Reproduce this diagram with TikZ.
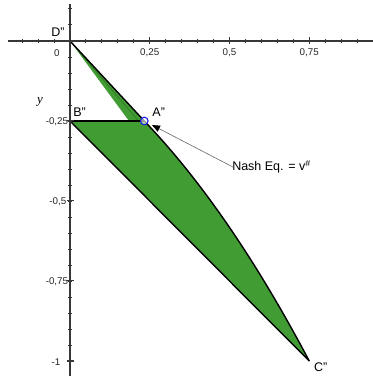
\documentclass[tikz,border=0pt]{standalone}
\usepackage{fontspec}
\setmainfont{Liberation Sans}
\newfontfamily\serifit{Liberation Serif}
\usetikzlibrary{arrows.meta}
\definecolor{fillgreen}{RGB}{66,156,52}
\definecolor{axisgray}{RGB}{55,55,55}
\definecolor{eqblue}{RGB}{20,30,230}
\tikzset{
  ticklabel/.style={font=\fontsize{9.8}{10}\selectfont, inner sep=0pt, text=black!85},
  ptlabel/.style={font=\fontsize{12.5}{13}\selectfont, inner sep=0pt},
  axisline/.style={axisgray, line width=1.4pt},
  tickline/.style={axisgray, line width=1pt},
  edge/.style={black, line width=1.4pt},
}
\begin{document}
\begin{tikzpicture}
\useasboundingbox (0,0) rectangle (373pt,376pt);
\begin{scope}[shift={(70pt,335pt)}, x=319pt, y=320pt]
  % points
  \coordinate (D) at (0,0);
  \coordinate (B) at (0,-0.25);
  \coordinate (A) at (0.233,-0.25);
  \coordinate (P) at (0.185,-0.25);
  \coordinate (C) at (0.75,-1);
  \coordinate (c1) at (0.411,-0.435);
  \coordinate (c2) at (0.583,-0.685);
  % region
  \fill[fillgreen] (D) -- (A) .. controls (c1) and (c2) .. (C) -- (B) -- (P) -- cycle;
  \draw[fillgreen!70!black, line width=0.5pt] (D) -- (0.215,-0.25);
  \draw[edge] (D) -- (A);
  \draw[edge] (B) -- (A);
  \draw[edge] (A) .. controls (c1) and (c2) .. (C);
  \draw[edge] (B) -- (C);
  % axes
  \coordinate (xl) at (-0.194,0);
  \coordinate (xr) at (0.95,0);
  \coordinate (yt) at (0,0.116);
  \coordinate (yb) at (0,-1.05);
  \draw[axisline] (xl) -- (xr);
  \draw[axisline] (yt) -- (yb);
  \foreach \i in {-3,...,18}{
    \draw[tickline] (\i*0.05,0) ++(0,-2pt) -- ++(0,4pt);
  }
  \foreach \i in {1,2,3}{
    \draw[tickline] (\i*0.25,0) ++(0,-3.5pt) -- ++(0,7pt);
  }
  \foreach \i in {-20,...,2}{
    \draw[tickline] (0,\i*0.05) ++(-2pt,0) -- ++(4pt,0);
  }
  \foreach \i in {1,2,3,4}{
    \draw[tickline] (0,-\i*0.25) ++(-3.5pt,0) -- ++(7pt,0);
  }
  % tick labels
  \node[ticklabel] (x0) at (-0.041,-0.0375) {0};
  \node[ticklabel] (x1) at (0.25,-0.0375) {0,25};
  \node[ticklabel] (x2) at (0.5,-0.0375) {0,5};
  \node[ticklabel] (x3) at (0.75,-0.0375) {0,75};
  \node[ticklabel] (y1) at (-0.041,-0.252) {-0,25};
  \node[ticklabel] (y2) at (-0.038,-0.502) {-0,5};
  \node[ticklabel] (y3) at (-0.041,-0.752) {-0,75};
  \node[ticklabel] (y4) at (-0.044,-1.002) {-1};
  \node[font=\serifit\itshape\fontsize{13}{14}\selectfont, inner sep=0pt] (ylab) at (-0.094,-0.19) {y};
  % point labels
  \node[ptlabel] (Dl) at (-0.038,0.028) {D''};
  \node[ptlabel] (Bl) at (0.030,-0.222) {B''};
  \node[ptlabel] (Al) at (0.278,-0.222) {A''};
  \node[ptlabel] (Cl) at (0.786,-1.019) {C''};
  % Nash equilibrium
  \draw[eqblue, line width=1.1pt, fill=white, fill opacity=0.6] (A) circle (3.8pt);
  \node[ptlabel, anchor=west] (nash) at (0.508,-0.394) {Nash Eq. = v\textsuperscript{\#}};
  \coordinate (tip) at (0.257,-0.2625);
  \draw[gray!80!black, line width=0.6pt, -{Triangle[length=8pt,width=6.5pt,black]}] ([xshift=1pt]nash.west) -- (tip);
\end{scope}
\end{tikzpicture}
\end{document}
